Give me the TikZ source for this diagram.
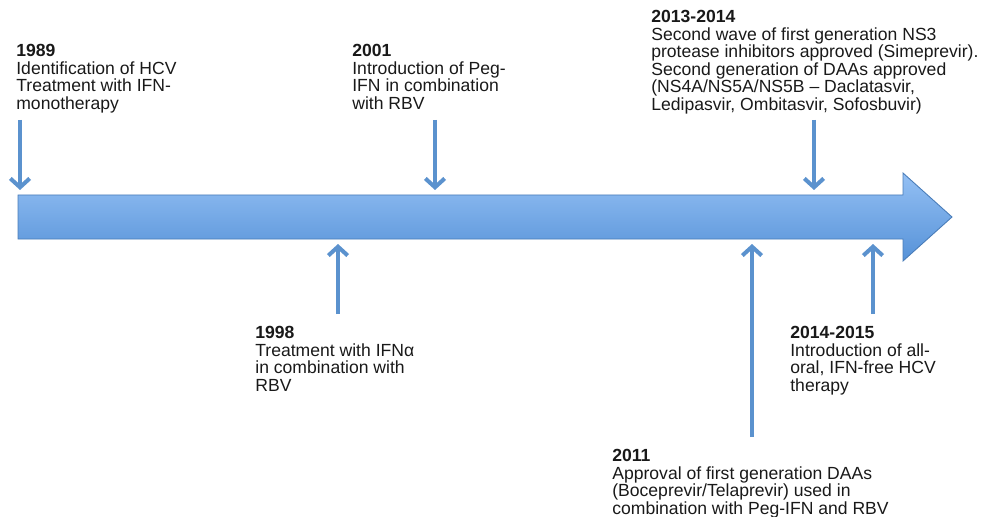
\documentclass[tikz,border=0pt]{standalone}
\usepackage{fontspec}
\setmainfont{Liberation Sans}
\usetikzlibrary{arrows.meta}
\definecolor{pinblue}{RGB}{91,146,206}
\definecolor{bandtop}{RGB}{148,192,244}
\definecolor{bandbot}{RGB}{86,146,216}
\tikzset{pin/.style={draw=pinblue, line width=2.3pt, -{Straight Barb[length=5pt,width=11pt]}}}
\tikzset{event/.style={anchor=north west, align=left, inner sep=0pt, text=black!90,
  font=\fontsize{10}{10}\selectfont}}

\begin{document}
\begin{tikzpicture}[x=0.02cm, y=-0.02cm]
  \useasboundingbox (0,0) rectangle (981,517);

  % the time line
  \shade [top color=bandtop, bottom color=bandbot, draw=bandbot!85!black, line width=0.5pt]
    (18,195) -- (903,195) -- (903,173) -- (952,217) -- (903,261) -- (903,239) -- (18,239) -- cycle;

  % above the line
  \node [event] (y1989) at (16,44) {\textbf{1989}\\Identification of HCV\\Treatment with IFN-\\monotherapy};
  \node [event] (y2001) at (352,44) {\textbf{2001}\\Introduction of Peg-\\IFN in combination\\with RBV};
  \node [event] (y2013) at (651,10) {\textbf{2013-2014}\\Second wave of first generation NS3\\protease inhibitors approved (Simeprevir).\\Second generation of DAAs approved\\(NS4A/NS5A/NS5B -- Daclatasvir,\\Ledipasvir, Ombitasvir, Sofosbuvir)};

  % below the line
  \node [event] (y1998) at (255,326) {\textbf{1998}\\Treatment with IFNα\\in combination with\\RBV};
  \node [event] (y2011) at (612,449) {\textbf{2011}\\Approval of first generation DAAs\\(Boceprevir/Telaprevir) used in\\combination with Peg-IFN and RBV};
  \node [event] (y2014) at (790,326) {\textbf{2014-2015}\\Introduction of all-\\oral, IFN-free HCV\\therapy};

  \coordinate (s1989) at (20,120);  \coordinate (e1989) at (20,190);
  \coordinate (s2001) at (435,120); \coordinate (e2001) at (435,190);
  \coordinate (s2013) at (814,120); \coordinate (e2013) at (814,190);
  \coordinate (s1998) at (338,314); \coordinate (e1998) at (338,244);
  \coordinate (s2011) at (752,437); \coordinate (e2011) at (752,244);
  \coordinate (s2014) at (873,314); \coordinate (e2014) at (873,244);

  \draw [pin] (s1989) -- (e1989);
  \draw [pin] (s2001) -- (e2001);
  \draw [pin] (s2013) -- (e2013);
  \draw [pin] (s1998) -- (e1998);
  \draw [pin] (s2011) -- (e2011);
  \draw [pin] (s2014) -- (e2014);
\end{tikzpicture}
\end{document}
